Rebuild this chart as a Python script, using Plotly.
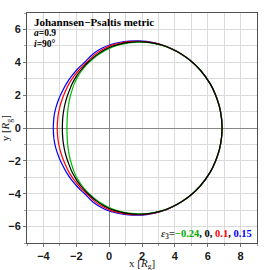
import plotly.graph_objects as go

# Upper half of each shadow contour (left edge y=0 -> over the top -> right edge y=0)
kerr_x = [-2.85, -2.82, -2.74, -2.61, -2.48, -2.25, -2.00, -1.74, -1.47, -1.28, -0.80, -0.30, 0.20, 0.70, 1.20, 1.80, 2.28, 2.77, 3.28, 3.81, 4.36, 4.94, 5.54, 6.16, 6.475, 6.67, 6.735, 6.80, 6.845, 6.87]
kerr_y = [0.00, 0.66, 1.21, 1.75, 2.13, 2.70, 3.14, 3.50, 3.81, 4.00, 4.42, 4.75, 4.98, 5.12, 5.21, 5.25, 5.225, 5.15, 5.02, 4.81, 4.52, 4.11, 3.53, 2.67, 2.01, 1.44, 1.19, 0.85, 0.50, 0.00]

eps_m024_x = [-2.57, -2.55, -2.50, -2.41, -2.31, -2.12, -1.90, -1.66, -1.405, -1.22, -0.77, -0.27, 0.22, 0.71, 1.20, 1.80, 2.28, 2.77, 3.28, 3.81, 4.36, 4.94, 5.54, 6.16, 6.475, 6.67, 6.735, 6.80, 6.845, 6.87]
eps_m024_y = [0.00, 0.66, 1.21, 1.75, 2.13, 2.70, 3.14, 3.50, 3.81, 4.00, 4.38, 4.71, 4.94, 5.085, 5.18, 5.225, 5.205, 5.135, 5.01, 4.81, 4.52, 4.11, 3.53, 2.67, 2.01, 1.44, 1.19, 0.85, 0.50, 0.00]

eps_01_x = [-3.16, -3.12, -3.02, -2.86, -2.71, -2.44, -2.15, -1.86, -1.57, -1.37, -0.86, -0.35, 0.17, 0.68, 1.20, 1.80, 2.28, 2.77, 3.28, 3.81, 4.36, 4.94, 5.54, 6.165, 6.48, 6.675, 6.74, 6.805, 6.85, 6.875]
eps_01_y = [0.00, 0.66, 1.21, 1.75, 2.13, 2.70, 3.14, 3.50, 3.81, 4.00, 4.48, 4.81, 5.045, 5.175, 5.255, 5.28, 5.245, 5.165, 5.03, 4.815, 4.523, 4.113, 3.533, 2.673, 2.013, 1.443, 1.19, 0.85, 0.50, 0.00]

eps_015_x = [-3.40, -3.36, -3.25, -3.07, -2.90, -2.60, -2.30, -2.00, -1.70, -1.49, -0.93, -0.39, 0.15, 0.67, 1.20, 1.80, 2.28, 2.78, 3.29, 3.82, 4.36, 4.945, 5.545, 6.17, 6.485, 6.68, 6.745, 6.81, 6.855, 6.88]
eps_015_y = [0.00, 0.66, 1.21, 1.75, 2.13, 2.70, 3.14, 3.50, 3.81, 4.00, 4.55, 4.88, 5.10, 5.22, 5.29, 5.31, 5.27, 5.18, 5.04, 4.82, 4.525, 4.115, 3.535, 2.675, 2.015, 1.445, 1.19, 0.85, 0.50, 0.00]

series = [
    ("0.15", eps_015_x, eps_015_y, "rgb(0,0,255)"),
    ("0.1", eps_01_x, eps_01_y, "rgb(255,0,0)"),
    ("-0.24", eps_m024_x, eps_m024_y, "rgb(0,190,0)"),
    ("0", kerr_x, kerr_y, "rgb(0,0,0)"),
]


def closed(xs, ys):
    # mirror the upper half (the shadow is symmetric about y=0) and close the loop
    fx = list(xs) + list(xs[::-1][1:])
    fy = list(ys) + [-v for v in ys[::-1][1:]]
    # wrap one point on each side so the spline is smooth at the seam
    fx = [fx[-2]] + fx + [fx[1]]
    fy = [fy[-2]] + fy + [fy[1]]
    return fx, fy


fig = go.Figure()
for name, xs, ys, col in series:
    fx, fy = closed(xs, ys)
    fig.add_trace(go.Scatter(x=fx, y=fy, mode="lines", name=name,
                             line=dict(color=col, width=1.2, shape="spline", smoothing=0.9),
                             hoverinfo="skip"))

tick_font = dict(family="Liberation Sans, Arial, sans-serif", size=11, color="rgb(25,25,25)", weight="bold")
serif = "Liberation Serif, Times New Roman, serif"

axis_common = dict(
    showgrid=True, gridcolor="rgb(218,218,218)", gridwidth=1,
    zeroline=True, zerolinecolor="rgb(135,135,135)", zerolinewidth=1,
    showline=True, mirror=True, linecolor="rgb(80,80,80)", linewidth=1,
    ticks="outside", ticklen=3, tickcolor="rgb(120,120,120)",
    tickfont=tick_font,
    minor=dict(dtick=1, showgrid=True, gridcolor="rgb(218,218,218)", ticks="outside", ticklen=2, tickcolor="rgb(160,160,160)"),
    fixedrange=True, automargin=False,
)

fig.update_layout(
    width=270, height=270,
    margin=dict(l=27, r=13, t=13, b=27),
    paper_bgcolor="white", plot_bgcolor="white",
    showlegend=False,
    xaxis=dict(range=[-5, 9], tickmode="linear", tick0=0, dtick=2, **axis_common),
    yaxis=dict(range=[-7, 7], tickmode="linear", tick0=0, dtick=2, **axis_common),
)

# axis titles
fig.add_annotation(xref="paper", yref="paper", x=0.5, y=-0.093, xanchor="center", yanchor="middle",
                   text="x [<i>R</i><sub>g</sub>]", showarrow=False,
                   font=dict(family=serif, size=11, color="rgb(25,25,25)"))
fig.add_annotation(xref="paper", yref="paper", x=-0.09, y=0.5, xanchor="center", yanchor="middle",
                   text="y [<i>R</i><sub>g</sub>]", showarrow=False, textangle=-90,
                   font=dict(family=serif, size=11, color="rgb(25,25,25)"))

fig.add_annotation(xref="paper", yref="paper", x=0.02, y=0.962, xanchor="left", yanchor="middle",
                   text="<b>Johannsen−Psaltis metric</b>", showarrow=False,
                   font=dict(family=serif, size=11, color="black"))
fig.add_annotation(xref="paper", yref="paper", x=0.02, y=0.913, xanchor="left", yanchor="middle",
                   text="<b><i>a</i>=0.9</b>", showarrow=False,
                   font=dict(family=serif, size=9.5, color="black"))
fig.add_annotation(xref="paper", yref="paper", x=0.02, y=0.866, xanchor="left", yanchor="middle",
                   text="<b><i>i</i>=90°</b>", showarrow=False,
                   font=dict(family=serif, size=9.5, color="black"))
fig.add_annotation(xref="paper", yref="paper", x=0.985, y=0.035, xanchor="right", yanchor="middle",
                   text=("<b><i><span style='color:rgb(60,60,60)'>ε</span></i>"
                         "<span style='color:rgb(60,60,60)'><sub>3</sub>=</span>"
                         "<span style='color:rgb(0,170,0)'>−0.24</span>, 0, "
                         "<span style='color:rgb(255,0,0)'>0.1</span>, "
                         "<span style='color:rgb(0,0,255)'>0.15</span></b>"),
                   showarrow=False, font=dict(family=serif, size=10.5, color="black"))

fig.write_html("out.html", config={"displayModeBar": False},
               post_script="document.body.style.margin='0';document.body.style.padding='0';")
